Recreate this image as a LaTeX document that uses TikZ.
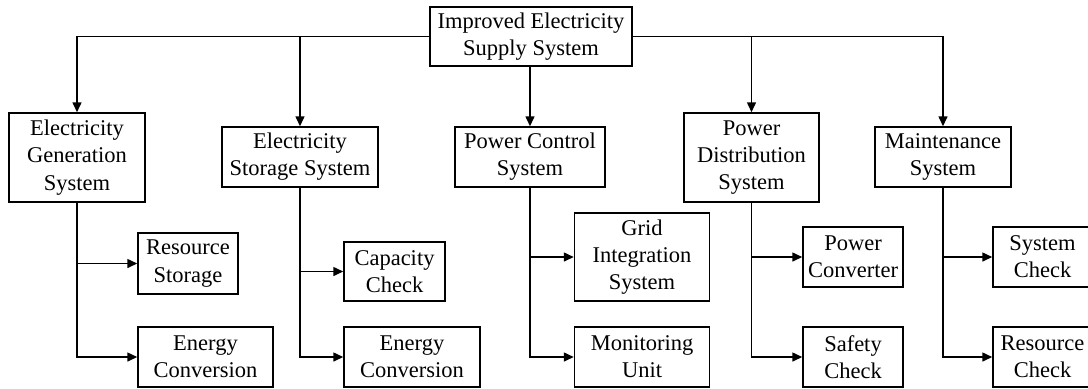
\documentclass[tikz,border=0pt]{standalone}
\usepackage{fontspec}
\setmainfont{Liberation Serif}
\usetikzlibrary{arrows.meta}
\tikzset{
  box/.style={draw, line width=0.75pt, align=center, inner sep=0pt},
  link/.style={line width=0.75pt, -{Triangle[length=5pt,width=4.5pt]}},
}
\begin{document}
\begin{tikzpicture}[x=0.5pt, y=-0.5pt, font=\fontsize{11.25pt}{13.6pt}\selectfont]
    \useasboundingbox (0,0) rectangle (1088,388);

    % Top
    \node[box, minimum width=101pt, minimum height=29.5pt] (root) at (531,36.5) {Improved Electricity\\Supply System};

    % Subsystems
    \node[box, minimum width=68pt, minimum height=44.5pt] (egs) at (77,157.5) {Electricity\\Generation\\System};
    \node[box, minimum width=78pt, minimum height=30pt] (ess) at (300,157) {Electricity\\Storage System};
    \node[box, minimum width=75pt, minimum height=30pt] (pcs) at (530,157) {Power Control\\System};
    \node[box, minimum width=67.5pt, minimum height=44.5pt] (pds) at (751.5,157.5) {Power\\Distribution\\System};
    \node[box, minimum width=68pt, minimum height=30pt] (ms) at (943,157) {Maintenance\\System};

    % Components
    \node[box, minimum width=50pt, minimum height=30.5pt] (rs) at (188,263.5) {Resource\\Storage};
    \node[box, minimum width=67.5pt, minimum height=30pt] (ecA) at (205.5,357) {Energy\\Conversion};
    \node[box, minimum width=50.5pt, minimum height=29.5pt] (cc) at (394.5,271.5) {Capacity\\Check};
    \node[box, minimum width=68pt, minimum height=30pt] (ecB) at (412,357) {Energy\\Conversion};
    \node[box, minimum width=67.5pt, minimum height=44pt] (gis) at (642,257) {Grid\\Integration\\System};
    \node[box, minimum width=67.5pt, minimum height=30pt] (mu) at (642,357) {Monitoring\\Unit};
    \node[box, minimum width=50pt, minimum height=30pt] (pc) at (853,257) {Power\\Converter};
    \node[box, minimum width=50pt, minimum height=30pt] (sc) at (853,357) {Safety\\Check};
    \node[box, minimum width=49.5pt, minimum height=30pt] (syc) at (1042.5,257) {System\\Check};
    \node[box, minimum width=49.5pt, minimum height=30pt] (rc) at (1042.5,357) {Resource\\Check};

    % Top to subsystems
    \draw[link] (root.west) -| (egs.north);
    \draw[link] (root.west) -| (ess.north);
    \draw[link] (pcs.north |- root.south) -- (pcs.north);
    \draw[link] (root.east) -| (pds.north);
    \draw[link] (root.east) -| (ms.north);

    % Subsystems to components
    \draw[link] (egs.south) |- (rs.west);
    \draw[link] (egs.south) |- (ecA.west);
    \draw[link] (ess.south) |- (cc.west);
    \draw[link] (ess.south) |- (ecB.west);
    \draw[link] (pcs.south) |- (gis.west);
    \draw[link] (pcs.south) |- (mu.west);
    \draw[link] (pds.south) |- (pc.west);
    \draw[link] (pds.south) |- (sc.west);
    \draw[link] (ms.south) |- (syc.west);
    \draw[link] (ms.south) |- (rc.west);
\end{tikzpicture}
\end{document}
